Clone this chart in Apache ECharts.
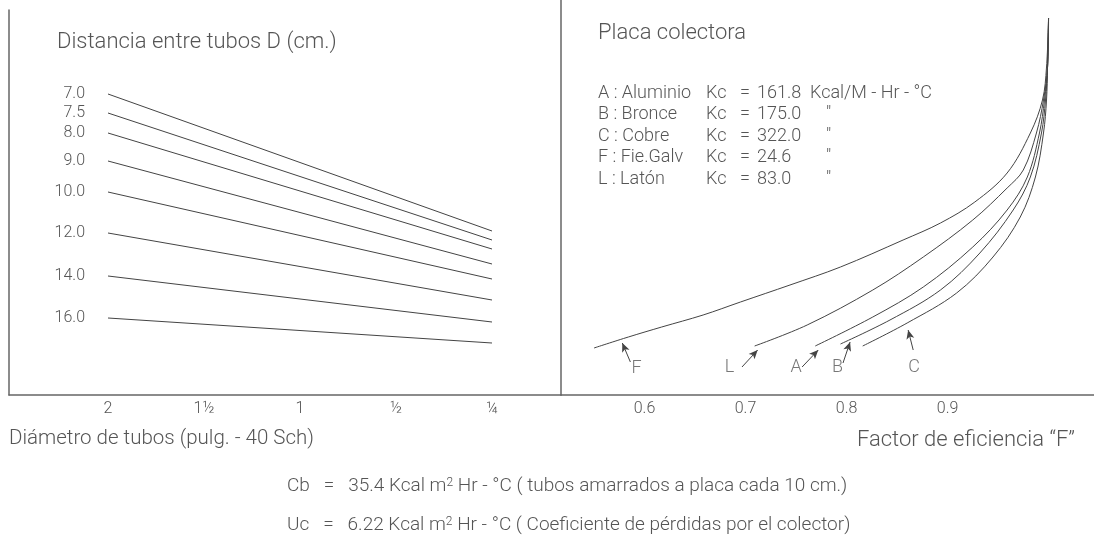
<!DOCTYPE html>
<html><head><meta charset="utf-8">
<script src="https://cdn.jsdelivr.net/npm/echarts@6/dist/echarts.min.js"></script>
<style>html,body{margin:0;padding:0;background:#fff}#c{width:1094px;height:560px}</style>
</head><body><div id="c"></div>
<script>
// ---- Left panel: distance between tubes D (cm) vs tube diameter ----
const spacingLabels = ['7.0','7.5','8.0','9.0','10.0','12.0','14.0','16.0'];
const lineStartH = [301,282,262,234,203,162,119,77];   // relative height at 2"
const lineEndH   = [164,155,146,131,116,95,73,52];     // relative height at 1/4"
const diamTicks  = ['2','1½','1','½','¼'];

// ---- Right panel: efficiency factor F curves (F, relative height) ----
const effTicks = [0.6,0.7,0.8,0.9];
const curveF = [[0.550,47],[0.584,58],[0.617,68],[0.658,80],[0.695,93],[0.744,110],[0.794,128],[0.856,155],[0.893,172],[0.927,193],[0.959,222],[0.982,262],[0.994,295],[0.998,328],[1.0,377]];
const curveL = [[0.709,49],[0.761,70],[0.826,105],[0.876,138],[0.925,175],[0.959,207],[0.975,225],[0.988,262],[0.995,295],[0.999,328],[1.0,377]];
const curveA = [[0.769,49],[0.826,78],[0.876,108],[0.925,148],[0.959,185],[0.979,218],[0.991,262],[0.996,295],[0.999,328],[1.0,377]];
const curveB = [[0.794,51],[0.843,75],[0.893,105],[0.932,142],[0.965,185],[0.982,218],[0.993,262],[0.997,295],[0.999,328],[1.0,377]];
const curveC = [[0.816,49],[0.860,72],[0.909,102],[0.945,138],[0.972,178],[0.987,218],[0.995,262],[0.998,295],[0.999,328],[1.0,377]];
const curveNames = ['F','L','A','B','C'];
const curveLabelPos = [[0.592,27],[0.684,28],[0.750,28],[0.791,28],[0.867,28]];
const arrowStart = [[0.586,33],[0.6965,28],[0.756,28],[0.7965,32],[0.866,45]];
const arrowEnd   = [[0.578,52],[0.712,45],[0.772,45],[0.8035,53],[0.861,65]];
const arrowBend  = [-0.5,0.4,0.4,0.05,0];

// ---- Legend of plate materials ----
const materials = ['A : Aluminio','B : Bronce','C : Cobre','F : Fie.Galv','L : Latón'];
const kcValues  = ['161.8','175.0','322.0','24.6','83.0'];
const kcUnits   = ['Kcal/M - Hr - °C','″','″','″','″'];

const FONT = 'Roboto';
const TXT = '#555';
const LINE = '#444';

const titles = [];
function addText(text, left, top, size) {
  titles.push({
    text: text, left: left, top: top, padding: 0,
    textStyle: {fontFamily: FONT, fontWeight: 300, fontSize: size, color: TXT, lineHeight: size + 4}
  });
}
addText('Distancia entre tubos D (cm.)', 57, 29, 22);
addText('Placa colectora', 598, 20, 22);
materials.forEach((m, i) => {
  const top = 82 + i * 21.5;
  addText(m, 598, top, 18);
  addText('Kc', 706, top, 18);
  addText('=', 740, top, 18);
  addText(kcValues[i], 757, top, 18);
  addText(kcUnits[i], i === 0 ? 810 : 826, top, 18);
});
addText('Diámetro de tubos (pulg. - 40 Sch)', 9, 427, 20.5);
titles.push({
  text: 'Factor de eficiencia “F”', right: 19, top: 427, padding: 0,
  textStyle: {fontFamily: FONT, fontWeight: 300, fontSize: 22, color: TXT, lineHeight: 26}
});
const richSup = {sup: {fontFamily: FONT, fontWeight: 300, fontSize: 12, color: TXT, verticalAlign: 'top', lineHeight: 14, padding: [0,0,10,0]}};
titles.push({
  text: 'Cb   =   35.4 Kcal m{sup|2} Hr - °C ( tubos amarrados a placa cada 10 cm.)',
  left: 287, top: 477, padding: 0,
  textStyle: {fontFamily: FONT, fontWeight: 300, fontSize: 19, color: TXT, rich: richSup}
});
titles.push({
  text: 'Uc   =   6.22 Kcal m{sup|2} Hr - °C ( Coeficiente de pérdidas por el colector)',
  left: 287, top: 516, padding: 0,
  textStyle: {fontFamily: FONT, fontWeight: 300, fontSize: 19, color: TXT, rich: richSup}
});

const axisLineStyle = {show: true, onZero: false, lineStyle: {color: '#666', width: 1.5}};
const tickLabel = {fontFamily: FONT, fontWeight: 300, fontSize: 16, color: TXT, margin: 6};

const series = [];
spacingLabels.forEach((lab, i) => {
  series.push({
    type: 'line', name: 'D ' + lab, xAxisIndex: 0, yAxisIndex: 0,
    symbol: 'circle', symbolSize: 0, showSymbol: true, silent: true,
    lineStyle: {color: LINE, width: 1},
    itemStyle: {color: LINE},
    label: {show: false, position: 'left', distance: 23, fontFamily: FONT, fontWeight: 300, fontSize: 16, color: TXT, formatter: lab},
    labelLayout: {hideOverlap: false},
    data: [{value: [0, lineStartH[i]], label: {show: true}}, [4, lineEndH[i]]]
  });
});
[curveF, curveL, curveA, curveB, curveC].forEach((c, i) => {
  series.push({
    type: 'line', name: curveNames[i], xAxisIndex: 1, yAxisIndex: 1,
    symbol: 'none', smooth: 0.35, silent: true,
    lineStyle: {color: LINE, width: 1},
    data: c
  });
});
series.push({
  type: 'scatter', name: 'labels', xAxisIndex: 1, yAxisIndex: 1,
  symbolSize: 0, silent: true,
  label: {show: true, position: 'inside', fontFamily: FONT, fontWeight: 300, fontSize: 18, color: TXT,
          formatter: p => curveNames[p.dataIndex]},
  data: curveLabelPos,
  markLine: {
    silent: true, symbol: ['none', 'arrow'], symbolSize: [6, 9],
    label: {show: false},
    lineStyle: {color: LINE, width: 1, type: 'solid'},
    data: arrowStart.map((s, i) => [
      {coord: s, lineStyle: {curveness: arrowBend[i], color: LINE, width: 1, type: 'solid'}},
      {coord: arrowEnd[i]}
    ])
  }
});

const chart = echarts.init(document.getElementById('c'), null, {renderer: 'canvas'});
chart.setOption({
  animation: false,
  backgroundColor: '#fff',
  title: titles,
  grid: [
    {left: 9, right: 533, top: 10, bottom: 165},
    {left: 561, right: 0, top: 0, bottom: 165}
  ],
  xAxis: [
    {gridIndex: 0, type: 'value', min: -1.03125, max: 4.71875,
     axisLine: axisLineStyle, axisTick: {show: false}, splitLine: {show: false},
     axisLabel: Object.assign({customValues: [0,1,2,3,4], formatter: v => diamTicks[Math.round(v)]}, tickLabel)},
    {gridIndex: 1, type: 'value', min: 0.5173, max: 1.045,
     axisLine: axisLineStyle, axisTick: {show: false}, splitLine: {show: false},
     axisLabel: Object.assign({customValues: effTicks, formatter: v => v.toFixed(1)}, tickLabel)}
  ],
  yAxis: [
    {gridIndex: 0, type: 'value', min: 0, max: 385,
     axisLine: axisLineStyle, axisTick: {show: false}, axisLabel: {show: false}, splitLine: {show: false}},
    {gridIndex: 1, type: 'value', min: 0, max: 395,
     axisLine: axisLineStyle, axisTick: {show: false}, axisLabel: {show: false}, splitLine: {show: false}}
  ],
  series: series
});
</script>
</body></html>
